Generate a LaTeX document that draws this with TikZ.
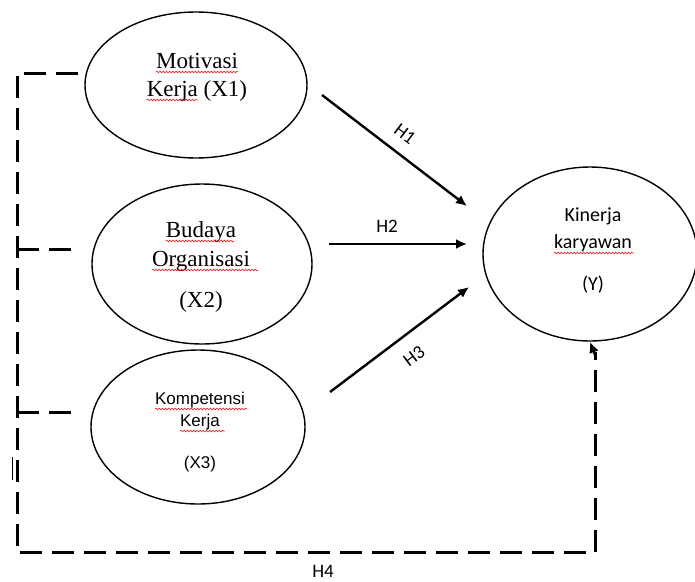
\documentclass[tikz,border=0pt]{standalone}
\usepackage{fontspec}
\setmainfont{Liberation Serif}
\newfontfamily\arialfont{Liberation Sans}
\newfontfamily\califont{Carlito}
\usetikzlibrary{shapes.geometric,arrows.meta,decorations.pathmorphing}
\begin{document}
\begin{tikzpicture}[x=1pt,y=-1pt,
  var/.style={draw,ellipse,line width=1.4pt,inner sep=0pt},
  serif/.style={anchor=base,inner sep=0pt,font=\fontsize{23}{26}\selectfont},
  sans/.style={anchor=base,inner sep=0pt,font=\arialfont\fontsize{17}{20}\selectfont},
  cali/.style={anchor=base,inner sep=0pt,font=\califont\fontsize{20}{24}\selectfont},
  hlab/.style={inner sep=0pt,font=\califont\fontsize{19}{22}\selectfont},
  path/.style={line width=2.4pt,-{Latex[length=11pt,width=10pt]}},
  link/.style={line width=3pt,dash pattern=on 22pt off 10pt},
  squig/.style={red,line width=0.5pt,decorate,decoration={snake,amplitude=0.9pt,segment length=3.2pt}}]
\useasboundingbox (0,0) rectangle (695,581);
% ellipses
\node[var,minimum width=222pt,minimum height=146pt] (x1) at (196,85) {};
\node[var,minimum width=220pt,minimum height=160pt] (x2) at (202,264) {};
\node[var,minimum width=214pt,minimum height=154pt] (x3) at (198,427) {};
\node[var,minimum width=214pt,minimum height=174pt] (y) at (590,254) {};
% texts
\node[serif] (t1a) at (197,68) {Motivasi};
\node[serif] (t1b) at (197,96) {Kerja (X1)};
\node[serif] (t2a) at (201,237) {Budaya};
\node[serif] (t2b) at (201,266) {Organisasi};
\node[serif] (t2c) at (201,307) {(X2)};
\node[sans] (t3a) at (200,404) {Kompetensi};
\node[sans] (t3b) at (200,426) {Kerja};
\node[sans] (t3c) at (200,468) {(X3)};
\node[cali] (tya) at (593,221) {Kinerja};
\node[cali] (tyb) at (593,248) {karyawan};
\node[cali] (tyc) at (593,290) {(Y)};
% spell-check squiggles
\draw[squig] (t1a.base west)++(0,4) -- ++(82,0);
\draw[squig] (t1b.base west)++(0,4) -- ++(51,0);
\draw[squig] (t2a.base west)++(0,4) -- ++(69,0);
\draw[squig] (t2b.base west)++(0,4) -- ++(106,0);
\draw[squig] (t3a.base west)++(0,5) -- ++(92,0);
\draw[squig] (t3b.base west)++(0,5) -- ++(45,0);
\draw[squig] (tyb.base west)++(0,5) -- ++(80,0);
% hypothesis arrows
\coordinate (a1s) at (322,95);
\coordinate (a1e) at (467,206);
\coordinate (a2s) at (329,244);
\coordinate (a2e) at (467,244);
\coordinate (a3s) at (330,392);
\coordinate (a3e) at (469,287);
\draw[path] (a1s) -- (a1e);
\draw[path] (a2s) -- (a2e);
\draw[path] (a3s) -- (a3e);
\node[hlab,rotate=-37] (h1) at (405,134) {H1};
\node[hlab] (h2) at (387,226) {H2};
\node[hlab,rotate=37] (h3) at (414,356) {H3};
% dashed correlation frame
\coordinate (c1) at (17,73);
\coordinate (c2) at (17,249);
\coordinate (c3) at (17,412);
\coordinate (cb) at (17,552);
\coordinate (cr) at (595,552);
\draw[link] (78,73) -- (c1) -- (cb);
\draw[link] (c2) -- (80,249);
\draw[link] (c3) -- (79,412);
\draw[link] (20,552) -- (cr);
\draw[link] (cr) -- (595,352);
\draw[line width=2.4pt,-{Latex[length=11pt,width=10pt]}] (595,355) -- (y.south);
\node[hlab] (h4) at (323,571) {H4};
% small stray mark
\draw[line width=0.6pt] (12,457) -- (12,480);
\end{tikzpicture}
\end{document}
